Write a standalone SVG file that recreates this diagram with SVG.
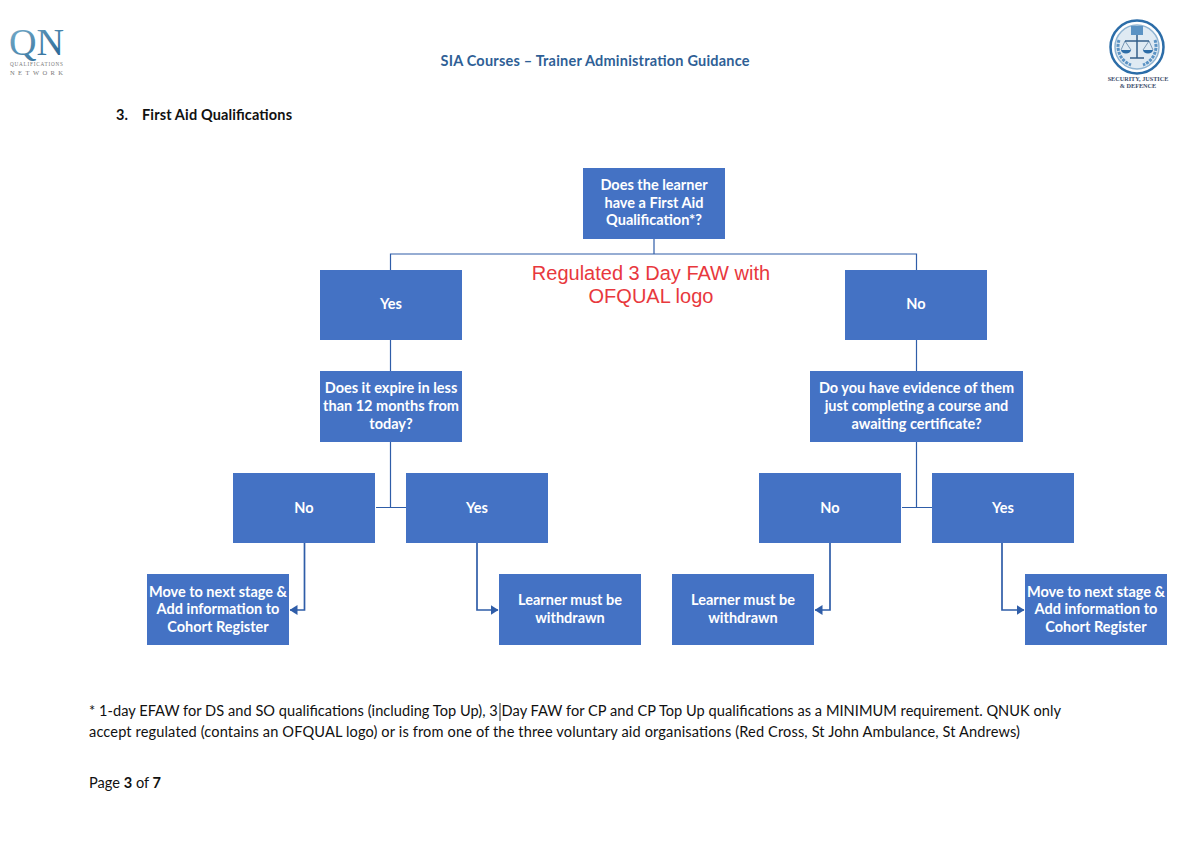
<svg xmlns="http://www.w3.org/2000/svg" width="1201" height="861" viewBox="0 0 1201 861">
<style>
text{font-family:Lato,"Open Sans",sans-serif}
.n rect{fill:#4472c4}
.n text{fill:#fff;font-size:14.5px;font-weight:700;text-anchor:middle}
.c{fill:none;stroke:#2f5da8;stroke-width:1.2}
.d{fill:none;stroke:#2f5da8;stroke-width:1.7}
.b{fill:#111;font-size:14.6px}
.s{font-family:"Liberation Serif",serif}
</style>
<defs>
<marker id="a" markerWidth="8" markerHeight="10" refX="7.500" refY="5" orient="auto" markerUnits="userSpaceOnUse"><path d="M0 0L8 5L0 10z" fill="#2f5da8"/></marker>
<linearGradient id="g" x1="0" y1="0" x2="1" y2="1"><stop offset="0" stop-color="#7fb4cf"/><stop offset="1" stop-color="#1f5f8f"/></linearGradient>
</defs>
<rect width="1201" height="861" fill="#fff"/>
<g id="logo-left">
<text class="s" x="9" y="55" font-size="38" fill="url(#g)" textLength="55" lengthAdjust="spacingAndGlyphs">QN</text>
<text class="s" x="10" y="66" font-size="5.200" fill="#777" textLength="53">QUALIFICATIONS</text>
<text class="s" x="10" y="75" font-size="6.500" fill="#777" textLength="53">NETWORK</text>
</g>
<g id="logo-right">
<circle cx="1137" cy="47" r="26.500" fill="#fff" stroke="#2c6da8" stroke-width="2.500"/>
<circle cx="1137" cy="47" r="22" fill="#dfeaf3" stroke="#8fb4d2" stroke-width="1.500"/>
<path d="M1119 40a20 20 0 0 0 12 25M1155 40a20 20 0 0 1-12 25" fill="none" stroke="#5b93c4" stroke-width="3" stroke-dasharray="3 1"/>
<rect x="1131" y="26" width="12" height="9" fill="#5b93c4"/>
<path d="M1137 35V58M1125 41H1149M1130 58H1144" fill="none" stroke="#345f8a" stroke-width="1.500"/>
<path d="M1121 50a5 3.500 0 0 0 10 0zM1143 50a5 3.500 0 0 0 10 0z" fill="#2c6da8"/>
<path d="M1125 41L1121 50M1125 41L1131 50M1149 41L1143 50M1149 41L1153 50" fill="none" stroke="#345f8a" stroke-width=".6"/>
<text class="s" x="1138" y="81" font-size="6.200" font-weight="700" fill="#3a4c6b" text-anchor="middle">SECURITY, JUSTICE</text>
<text class="s" x="1138" y="88" font-size="6.200" font-weight="700" fill="#3a4c6b" text-anchor="middle">&amp; DEFENCE</text>
</g>
<text id="header" x="595" y="65.500" font-size="14.500" font-weight="700" fill="#2f5f96" text-anchor="middle" textLength="309">SIA Courses – Trainer Administration Guidance</text>
<text id="section-number" x="116" y="120" font-size="14.500" font-weight="700" fill="#111">3.</text>
<text id="section-title" x="142" y="120" font-size="14.500" font-weight="700" fill="#111" textLength="150">First Aid Qualifications</text>
<g id="connectors">
<path class="c" d="M654 239V254M390.500 270V254H916.500V270"/>
<path class="c" d="M390.500 340V371"/>
<path class="c" d="M916.500 340V371"/>
<path class="c" d="M390.500 442V507.500M376 507.500H406"/>
<path class="c" d="M916.500 442V507.500M902 507.500H932"/>
<path class="d" d="M304.500 543V610H290" marker-end="url(#a)"/>
<path class="d" d="M477 543V610H498" marker-end="url(#a)"/>
<path class="d" d="M830 543V610H815" marker-end="url(#a)"/>
<path class="d" d="M1002 543V610H1024" marker-end="url(#a)"/>
</g>
<g id="n1" class="n"><rect x="583" y="168" width="142" height="71"/><text x="654" y="190">Does the learner</text><text x="654" y="208">have a First Aid</text><text x="654" y="225">Qualification*?</text></g>
<g id="n2" class="n"><rect x="320" y="270" width="142" height="70"/><text x="391" y="309">Yes</text></g>
<g id="n3" class="n"><rect x="845" y="270" width="142" height="70"/><text x="916" y="309">No</text></g>
<g id="n4" class="n"><rect x="320" y="371" width="142" height="71"/><text x="391" y="393">Does it expire in less</text><text x="391" y="411">than 12 months from</text><text x="391" y="429">today?</text></g>
<g id="n5" class="n"><rect x="810" y="371" width="213" height="71"/><text x="916.500" y="393">Do you have evidence of them</text><text x="916.500" y="411">just completing a course and</text><text x="916.500" y="429">awaiting certificate?</text></g>
<g id="n6" class="n"><rect x="233" y="473" width="142" height="70"/><text x="304" y="513">No</text></g>
<g id="n7" class="n"><rect x="406" y="473" width="142" height="70"/><text x="477" y="513">Yes</text></g>
<g id="n8" class="n"><rect x="759" y="473" width="142" height="70"/><text x="830" y="513">No</text></g>
<g id="n9" class="n"><rect x="932" y="473" width="142" height="70"/><text x="1003" y="513">Yes</text></g>
<g id="n10" class="n"><rect x="147" y="574" width="142" height="71"/><text x="218" y="597">Move to next stage &amp;</text><text x="218" y="614">Add information to</text><text x="218" y="632">Cohort Register</text></g>
<g id="n11" class="n"><rect x="499" y="574" width="142" height="71"/><text x="570" y="605">Learner must be</text><text x="570" y="623">withdrawn</text></g>
<g id="n12" class="n"><rect x="672" y="574" width="142" height="71"/><text x="743" y="605">Learner must be</text><text x="743" y="623">withdrawn</text></g>
<g id="n13" class="n"><rect x="1025" y="574" width="142" height="71"/><text x="1096" y="597">Move to next stage &amp;</text><text x="1096" y="614">Add information to</text><text x="1096" y="632">Cohort Register</text></g>
<g id="annotation" fill="#e8383d" font-size="20" text-anchor="middle"><text x="651" y="280" style="font-family:'Liberation Sans',sans-serif">Regulated 3 Day FAW with</text><text x="651" y="303" style="font-family:'Liberation Sans',sans-serif">OFQUAL logo</text></g>
<g id="footnote">
<text class="b" x="89" y="716" textLength="972">* 1-day EFAW for DS and SO qualifications (including Top Up), 3 Day FAW for CP and CP Top Up qualifications as a MINIMUM requirement. QNUK only</text>
<text class="b" x="89" y="737" textLength="931">accept regulated (contains an OFQUAL logo) or is from one of the three voluntary aid organisations (Red Cross, St John Ambulance, St Andrews)</text>
<path d="M500 703V721" stroke="#222" stroke-width="1"/>
</g>
<text id="page" class="b" x="89" y="788">Page <tspan font-weight="700">3</tspan> of <tspan font-weight="700">7</tspan></text>
</svg>
